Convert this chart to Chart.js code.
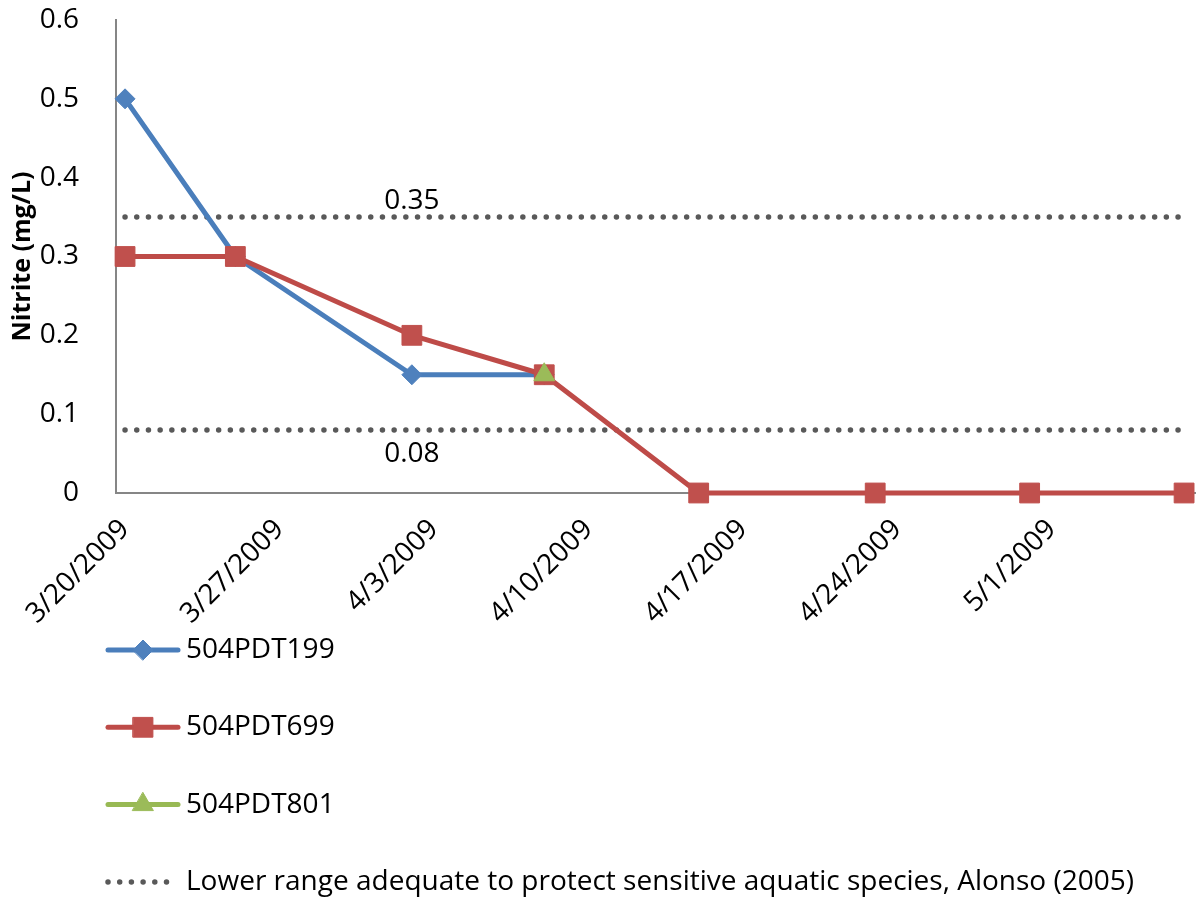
<!DOCTYPE html>
<html>
<head>
<meta charset="utf-8">
<title>Nitrite (mg/L)</title>
<script src="https://cdn.jsdelivr.net/npm/chart.js@4.4.1/dist/chart.umd.min.js"></script>
<style>
  html, body { margin: 0; padding: 0; background: #ffffff; }
  canvas { display: block; }
</style>
</head>
<body>
<canvas id="nitrite-chart" width="1196" height="901"></canvas>
<script>
// Sampling dates and nitrite readings (mg/L) per station
const sampleDates = ['3/20/2009', '3/25/2009', '4/2/2009', '4/8/2009', '4/15/2009', '4/23/2009', '4/30/2009', '5/7/2009'];
const pdt199 = [0.5, 0.3, 0.15, 0.15, null, null, null, null];
const pdt699 = [0.3, 0.3, 0.2, 0.15, 0, 0, 0, 0];
const pdt801 = [null, null, null, 0.15, null, null, null, null];

// Alonso (2005) range limits
const rangeUpper = 0.35;
const rangeLower = 0.08;
const rangeLegend = 'Lower range adequate to protect sensitive aquatic species, Alonso (2005)';

// Date axis tick labels (weekly)
const tickDates = ['3/20/2009', '3/27/2009', '4/3/2009', '4/10/2009', '4/17/2009', '4/24/2009', '5/1/2009'];
const yTicks = [0, 0.1, 0.2, 0.3, 0.4, 0.5, 0.6];

const FONT = '"Open Sans"';
const FONT_SIZE = 28;
const BASE = Date.UTC(2009, 2, 20);

function dayOffset(str) {
    const [m, d, y] = str.split('/').map(Number);
    return (Date.UTC(y, m - 1, d) - BASE) / 86400000;
}

function toPoints(values) {
    return sampleDates.map((d, i) => ({ x: dayOffset(d), y: values[i] }));
}

// draws the "0.35" / "0.08" labels next to the range lines
const rangeLabels = {
    id: 'rangeLabels',
    afterDatasetsDraw(chart) {
        const ctx = chart.ctx;
        chart.data.datasets.forEach((ds, i) => {
            if (!ds.valueLabel) return;
            const idx = ds.valueLabel.index;
            const pt = chart.getDatasetMeta(i).data[idx];
            ctx.save();
            ctx.font = `${FONT_SIZE}px ${FONT}`;
            ctx.fillStyle = '#000000';
            ctx.textAlign = 'center';
            ctx.textBaseline = 'alphabetic';
            const y = ds.valueLabel.side === 'above' ? pt.y - 8 : pt.y + 32;
            ctx.fillText(String(ds.data[idx].y), pt.x, y);
            ctx.restore();
        });
    }
};

// vertical legend under the axis
const stackedLegend = {
    id: 'stackedLegend',
    afterDraw(chart, args, opts) {
        const ctx = chart.ctx;
        const items = chart.data.datasets.filter(ds => ds.legendText);
        items.forEach((ds, k) => {
            const y = opts.top + k * opts.rowGap;
            ctx.save();
            ctx.lineCap = 'round';
            ctx.strokeStyle = ds.borderColor;
            ctx.lineWidth = ds.borderWidth;
            if (ds.borderDash) {
                ctx.setLineDash(ds.borderDash);
                ctx.beginPath();
                ctx.moveTo(opts.left, y);
                ctx.lineTo(opts.left + opts.dashLength, y);
                ctx.stroke();
            } else {
                ctx.beginPath();
                ctx.moveTo(opts.left, y);
                ctx.lineTo(opts.left + opts.lineLength, y);
                ctx.stroke();
                ctx.fillStyle = ds.pointBackgroundColor;
                ctx.strokeStyle = ds.pointBorderColor;
                ctx.lineWidth = 1;
                Chart.helpers.drawPoint(ctx, {
                    pointStyle: ds.pointStyle,
                    radius: ds.pointRadius,
                    rotation: 0,
                    borderWidth: 1
                }, opts.left + opts.lineLength / 2, y);
            }
            ctx.restore();

            ctx.save();
            ctx.font = `${FONT_SIZE}px ${FONT}`;
            ctx.fillStyle = '#000000';
            ctx.textBaseline = 'middle';
            ctx.textAlign = 'left';
            ctx.fillText(ds.legendText, opts.textX, y);
            ctx.restore();
        });
    }
};

const seriesLine = (label, values, line, fill, style, radius, order) => ({
    label: label,
    legendText: label,
    data: toPoints(values),
    borderColor: line,
    borderWidth: 5,
    borderCapStyle: 'round',
    borderJoinStyle: 'round',
    pointStyle: style,
    pointRadius: radius,
    pointHoverRadius: radius,
    pointBackgroundColor: fill,
    pointBorderColor: fill,
    pointBorderWidth: 1,
    spanGaps: false,
    clip: false,
    order: order
});

const rangeLine = (value, side, legendText) => ({
    label: String(value),
    legendText: legendText,
    data: toPoints(sampleDates.map(() => value)),
    borderColor: '#595959',
    borderWidth: 5.5,
    borderDash: [0, 11.7],
    borderCapStyle: 'round',
    pointRadius: 0,
    valueLabel: { index: 2, side: side },
    clip: false,
    order: 5
});

Chart.defaults.font.family = FONT;
Chart.defaults.font.size = FONT_SIZE;
Chart.defaults.color = '#000000';

new Chart(document.getElementById('nitrite-chart'), {
    type: 'line',
    data: {
        datasets: [
            seriesLine('504PDT199', pdt199, '#4A7EBB', '#4F81BD', 'rectRot', 10, 3),
            seriesLine('504PDT699', pdt699, '#BE4B48', '#C0504D', 'rect', 14, 2),
            seriesLine('504PDT801', pdt801, '#98B954', '#9BBB59', 'triangle', 12, 1),
            rangeLine(rangeUpper, 'above', null),
            rangeLine(rangeLower, 'below', rangeLegend)
        ]
    },
    options: {
        responsive: false,
        animation: false,
        events: [],
        layout: {
            autoPadding: false,
            padding: { top: 20, right: 0, bottom: 0, left: 0 }
        },
        plugins: {
            legend: { display: false },
            tooltip: { enabled: false },
            stackedLegend: {
                left: 108,
                lineLength: 70,
                dashLength: 60,
                textX: 186,
                top: 650,
                rowGap: 77.3
            }
        },
        scales: {
            x: {
                type: 'linear',
                min: -0.41,
                max: 48.54,
                grid: { display: false },
                border: { display: true, color: '#868686', width: 2 },
                afterFit(scale) {
                    scale.height = 408;
                    scale.paddingLeft = 0;
                    scale.paddingRight = 0;
                },
                afterBuildTicks(scale) {
                    scale.ticks = tickDates.map(d => ({ value: dayOffset(d) }));
                },
                ticks: {
                    autoSkip: false,
                    minRotation: 45,
                    maxRotation: 45,
                    padding: 12,
                    callback: (value, index) => tickDates[index]
                }
            },
            y: {
                min: 0,
                max: 0.6,
                grid: { display: false },
                border: { display: true, color: '#868686', width: 2 },
                afterFit(scale) {
                    scale.width = 116;
                    scale.paddingTop = 0;
                    scale.paddingBottom = 0;
                },
                afterBuildTicks(scale) {
                    scale.ticks = yTicks.map(v => ({ value: v }));
                },
                ticks: {
                    padding: 29,
                    callback: value => String(Number(value.toFixed(1)))
                },
                title: {
                    display: true,
                    text: 'Nitrite (mg/L)',
                    font: { size: 25, weight: 'bold' },
                    padding: { top: 8, bottom: 0 }
                }
            }
        }
    },
    plugins: [rangeLabels, stackedLegend]
});
</script>
</body>
</html>
